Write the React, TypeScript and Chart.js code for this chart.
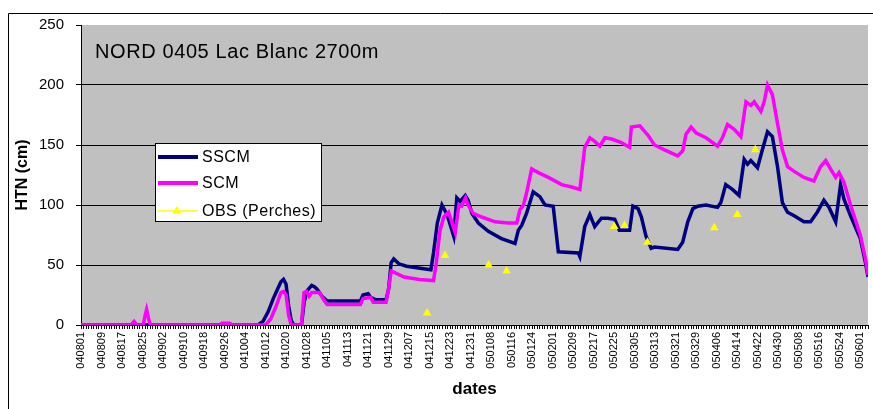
import React, { useEffect, useRef } from 'react';
import { Chart, registerables } from 'chart.js';

Chart.register(...registerables);

// Date labels shown every 8 days along the x axis (day 0 = 040801)
const tickLabels = [
  '040801', '040809', '040817', '040825', '040902', '040910', '040918', '040926',
  '041004', '041012', '041020', '041028', '041105', '041113', '041121', '041129',
  '041207', '041215', '041223', '041231', '050108', '050116', '050124', '050201',
  '050209', '050217', '050225', '050305', '050313', '050321', '050329', '050406',
  '050414', '050422', '050430', '050508', '050516', '050524', '050601',
];

const chartTitle = 'NORD 0405 Lac Blanc 2700m';
const seriesNames = ['SSCM', 'SCM', 'OBS (Perches)'];

// Snow depth (cm) by day index since 040801: [day, HTN]
const sscm: [number, number][] = [
  [0, 0], [69, 0], [71, 3], [73, 11], [75, 22], [76.7, 30], [78, 36], [79, 38], [80, 34],
  [81, 16], [82, 4], [83, 0], [86, 0], [87, 18], [88, 28], [90, 33], [91, 32], [92, 30],
  [94, 24], [96, 20], [109, 20], [110, 25], [112, 26], [113, 23], [115, 21], [119, 21],
  [120, 30], [121, 52], [122, 55], [124, 51], [127, 49], [133, 47], [136.5, 46],
  [137.5, 60], [139, 85], [140.8, 100], [142.8, 92], [145.4, 74], [146.6, 106],
  [147.9, 103], [149.9, 108], [151, 104], [152.5, 93], [155, 85], [158.9, 78], [164, 72],
  [169.3, 68], [170.6, 79], [171.9, 83], [173.8, 93], [176.4, 111], [179, 107], [181, 100],
  [184.2, 99], [186.2, 61], [194, 60], [194.6, 57], [196.5, 82], [198.5, 92], [200.4, 82],
  [203, 89], [205.5, 89], [208.2, 88], [210, 79], [214, 79], [215.3, 99], [217.3, 97],
  [218.6, 90], [220.4, 74], [222.4, 64], [223.7, 65], [232.8, 63], [234.7, 69],
  [236.7, 86], [238.7, 97], [240.6, 99], [243.8, 100], [248.3, 98], [249.6, 102],
  [251.5, 117], [254.1, 113], [256.7, 108], [258.7, 138], [260, 134], [261.3, 137],
  [263.9, 131], [265.8, 146], [267.8, 161], [269.7, 157], [271.7, 132], [273.6, 102],
  [275.6, 94], [278.2, 91], [282, 86], [284.6, 86], [287.2, 94], [289.8, 104], [291.8, 98],
  [294.4, 86], [296.3, 117], [297.6, 105], [300.2, 91], [304, 72], [306, 52], [307, 40],
];

const scm: [number, number][] = [
  [0, 0], [19.5, 0], [20.7, 3], [21.8, 0], [24.3, 0], [25, 8], [25.6, 13], [26.3, 6],
  [27, 0], [54, 0], [55, 1.5], [58, 1.5], [59, 0], [72, 0], [74, 5], [76, 15], [78, 27],
  [79, 28], [80, 25], [81, 8], [82, 0], [86, 0], [87, 27], [88, 28], [89, 24], [90, 27],
  [93, 27], [95, 20], [96, 17], [109, 17], [110, 22], [113, 23], [114, 19], [119, 19],
  [120, 30], [121, 45], [123, 43], [126, 40], [132, 38], [137.5, 37], [138.5, 50],
  [140, 78], [141.5, 90], [143.4, 94], [146, 77], [147.4, 100], [148.5, 99], [150, 106],
  [151, 100], [153, 93], [156.3, 90], [161.5, 86], [166.6, 85], [170, 85], [171.2, 96],
  [172.6, 100], [173.8, 110], [175.8, 130], [178.4, 127], [182.3, 123], [187.5, 117],
  [191.4, 115], [194.6, 113], [195.2, 124], [196.5, 148], [198.5, 156], [200.4, 153],
  [202.4, 149], [204.4, 156], [207, 155], [210.8, 152], [214, 148], [214.7, 165],
  [218, 166], [221.2, 158], [223.7, 150], [227.6, 146], [232.8, 141], [234.7, 145],
  [236, 159], [238, 165], [240, 160], [243.8, 156], [248.3, 149], [250.2, 156],
  [252.2, 167], [254.8, 163], [257.4, 157], [259.4, 186], [261.3, 183], [262.6, 186],
  [265.2, 178], [266.5, 186], [267.8, 200], [269.7, 192], [271.7, 168], [273.6, 146],
  [275.6, 132], [278.2, 128], [282, 123], [285.9, 120], [288.5, 132], [290.5, 137],
  [292.4, 130], [294.4, 123], [295.7, 127], [297.6, 119], [300.2, 100], [304, 75],
  [306, 55], [307, 42],
];

// Snow stake observations
const obsDays = [135, 142, 159, 166, 208, 212, 221, 247, 256, 263];
const obsValues = [10, 58, 50, 45, 82, 83, 69, 81, 92, 146];

const FONT = '"Liberation Sans", Arial, Helvetica, sans-serif';
const NAVY = '#000080';
const MAGENTA = '#ff00ff';
const YELLOW = '#ffff00';

const toPoints = (pairs: [number, number][]) => pairs.map(([x, y]) => ({ x, y }));

// White page, outer frame and grey plot background
const framePlugin = {
  id: 'frame',
  beforeDraw(chart: any) {
    const { ctx, chartArea: a, width, height } = chart;
    ctx.save();
    ctx.fillStyle = '#ffffff';
    ctx.fillRect(0, 0, width, height);
    ctx.strokeStyle = '#000000';
    ctx.lineWidth = 1;
    ctx.beginPath();
    ctx.moveTo(8.5, height);
    ctx.lineTo(8.5, 13.5);
    ctx.lineTo(width, 13.5);
    ctx.stroke();
    ctx.fillStyle = '#c0c0c0';
    ctx.fillRect(a.left, a.top, a.right - a.left, a.bottom - a.top);
    ctx.restore();
  },
};

// Title inside the plot and the boxed legend
const overlayPlugin = {
  id: 'overlay',
  afterDraw(chart: any) {
    const { ctx } = chart;
    ctx.save();
    ctx.fillStyle = '#000000';
    ctx.font = `20px ${FONT}`;
    ctx.textBaseline = 'alphabetic';
    ctx.textAlign = 'left';
    (ctx as any).letterSpacing = '0.6px';
    ctx.fillText(chartTitle, 95, 58);

    // legend box
    const bx = 155, by = 143, bw = 167, bh = 79;
    ctx.fillStyle = '#ffffff';
    ctx.fillRect(bx, by, bw, bh);
    ctx.strokeStyle = '#000000';
    ctx.lineWidth = 1;
    ctx.strokeRect(bx + 0.5, by + 0.5, bw - 1, bh - 1);

    const rows = [157, 183, 211];
    chart.data.datasets.forEach((ds: any, i: number) => {
      const y = rows[i];
      ctx.beginPath();
      ctx.moveTo(158, y);
      ctx.lineTo(198, y);
      if (ds.showLine === false) {
        ctx.strokeStyle = ds.pointBackgroundColor;
        ctx.lineWidth = 1.5;
        ctx.stroke();
        ctx.fillStyle = ds.pointBackgroundColor;
        const r = 5;
        const cx = 177;
        ctx.beginPath();
        ctx.moveTo(cx, y - r);
        ctx.lineTo(cx + r * 0.866, y + r * 0.5);
        ctx.lineTo(cx - r * 0.866, y + r * 0.5);
        ctx.closePath();
        ctx.fill();
      } else {
        ctx.strokeStyle = ds.borderColor;
        ctx.lineWidth = 4;
        ctx.stroke();
      }
      ctx.fillStyle = '#000000';
      ctx.font = `16px ${FONT}`;
      (ctx as any).letterSpacing = '0.5px';
      ctx.textBaseline = 'middle';
      ctx.fillText(ds.label, 202, y + 1);
    });
    ctx.restore();
  },
};

export default function App() {
  const canvasRef = useRef<HTMLCanvasElement | null>(null);

  useEffect(() => {
    const canvas = canvasRef.current;
    if (!canvas) return;
    const chart = new Chart(canvas, {
      type: 'line',
      data: {
        datasets: [
          {
            label: seriesNames[0],
            data: toPoints(sscm),
            borderColor: NAVY,
            borderWidth: 3.5,
            pointRadius: 0,
            tension: 0,
            order: 3,
          },
          {
            label: seriesNames[1],
            data: toPoints(scm),
            borderColor: MAGENTA,
            borderWidth: 3.5,
            pointRadius: 0,
            tension: 0,
            order: 2,
          },
          {
            label: seriesNames[2],
            data: obsDays.map((d, i) => ({ x: d, y: obsValues[i] })),
            showLine: false,
            pointStyle: 'triangle',
            pointRadius: 5,
            pointBackgroundColor: YELLOW,
            pointBorderColor: YELLOW,
            pointBorderWidth: 0,
            borderColor: YELLOW,
            order: 1,
          },
        ],
      },
      options: {
        responsive: false,
        animation: false,
        devicePixelRatio: 1,
        layout: { padding: { top: 25, right: 2, left: 0, bottom: 0 } },
        plugins: {
          legend: { display: false },
          tooltip: { enabled: false },
        },
        scales: {
          x: {
            type: 'linear',
            min: 0,
            max: 307,
            afterFit(s: any) {
              s.height = 84;
              s.paddingLeft = 0;
              s.paddingRight = 0;
            },
            ticks: {
              stepSize: 1,
              autoSkip: false,
              minRotation: 90,
              maxRotation: 90,
              padding: 3,
              color: '#000000',
              font: { family: FONT, size: 11 },
              callback: (v: any) => {
                const n = Math.round(Number(v));
                return n % 8 === 0 && n / 8 < tickLabels.length ? tickLabels[n / 8] : '';
              },
            },
            grid: {
              drawOnChartArea: false,
              drawTicks: true,
              tickLength: 4,
              color: '#000000',
              lineWidth: 1,
            },
            border: { display: true, color: '#000000', width: 1 },
            title: {
              display: true,
              text: 'dates',
              color: '#000000',
              font: { family: FONT, size: 17, weight: 'bold' },
              padding: { top: 0, bottom: 9 },
            },
          },
          y: {
            min: 0,
            max: 250,
            afterFit(s: any) {
              s.width = 81;
              s.paddingTop = 0;
              s.paddingBottom = 0;
            },
            ticks: {
              stepSize: 50,
              padding: 12,
              color: '#000000',
              font: { family: FONT, size: 15 },
            },
            grid: {
              color: (c: any) => (c.tick && c.tick.value === 250 ? 'rgba(0,0,0,0)' : '#000000'),
              tickColor: '#000000',
              tickLength: 5,
              lineWidth: 1,
            },
            border: { display: true, color: '#000000', width: 1 },
            title: {
              display: true,
              text: 'HTN (cm)',
              color: '#000000',
              font: { family: FONT, size: 16, weight: 'bold' },
              padding: { top: 13, bottom: 0 },
            },
          },
        },
      },
      plugins: [framePlugin, overlayPlugin],
    } as any);
    return () => chart.destroy();
  }, []);

  return (
    <div style={{ position: 'absolute', left: 0, top: 0, width: 873, height: 409, background: '#fff' }}>
      <canvas ref={canvasRef} width={873} height={409} style={{ display: 'block' }} />
    </div>
  );
}
